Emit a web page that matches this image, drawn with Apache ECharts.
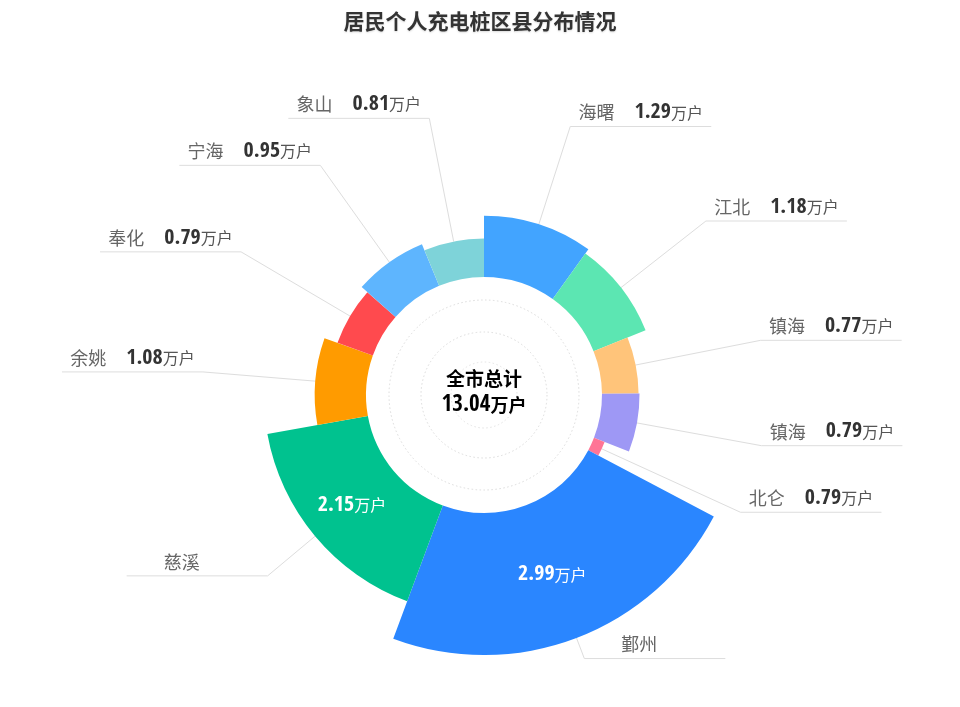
<!DOCTYPE html>
<html>
<head>
<meta charset="utf-8">
<script src="https://cdn.jsdelivr.net/npm/echarts@6/dist/echarts.min.js"></script>
<style>
  html, body { margin: 0; padding: 0; background: #fff; }
  #chart { width: 960px; height: 707px; }
</style>
</head>
<body>
<div id="chart"></div>
<script>
// ---- data ----
const titleText = '居民个人充电桩区县分布情况';
const categories = ['海曙', '江北', '镇海', '镇海', '北仑', '鄞州', '慈溪', '余姚', '奉化', '宁海', '象山'];
const values = [1.29, 1.18, 0.77, 0.79, 0.24, 2.99, 2.15, 1.08, 0.79, 0.95, 0.81];
const labelValues = ['1.29', '1.18', '0.77', '0.79', '0.79', '2.99', '2.15', '1.08', '0.79', '0.95', '0.81'];
const insideValueCategories = ['鄞州', '慈溪'];
const unitText = '万户';
const totalCaption = '全市总计';

// ---- style ----
const colors = ['#42a4ff', '#5ce6b2', '#ffc47a', '#9e98f5', '#ff7596', '#2a86ff',
                '#00c28f', '#ff9b00', '#ff4a4e', '#5eb5fe', '#7ed3d9'];
const CENTER = [484, 395];
const RADIUS = [118, 260];
const LINE_LEN = 141;
const CJK = '"Noto Sans CJK SC", "Noto Sans", sans-serif';
const NUM = '"Open Sans Condensed", "Roboto Condensed", sans-serif';

const total = values.reduce((a, b) => a + b, 0).toFixed(2);

const pieData = categories.map((name, i) => ({
  name: name,
  value: values[i],
  itemStyle: { color: colors[i] }
}));

const chart = echarts.init(document.getElementById('chart'), null, { renderer: 'canvas' });

chart.setOption({
  animation: false,
  backgroundColor: '#fff',
  title: {
    text: titleText,
    left: 'center',
    top: 6,
    textStyle: {
      fontFamily: CJK, fontSize: 21, fontWeight: 'bold', color: '#333',
      textShadowColor: 'rgba(0,0,0,0.15)', textShadowBlur: 2, textShadowOffsetY: 1
    }
  },
  graphic: [
    { type: 'circle', silent: true, shape: { cx: CENTER[0], cy: CENTER[1], r: 95 },
      style: { fill: 'none', stroke: '#dcdcdc', lineWidth: 1, lineDash: [1.5, 2.5] } },
    { type: 'circle', silent: true, shape: { cx: CENTER[0], cy: CENTER[1], r: 63 },
      style: { fill: 'none', stroke: '#dcdcdc', lineWidth: 1, lineDash: [1.5, 2.5] } },
    { type: 'circle', silent: true, shape: { cx: CENTER[0], cy: CENTER[1], r: 33 },
      style: { fill: 'none', stroke: '#e4e4e4', lineWidth: 1, lineDash: [1.5, 2.5] } },
    { type: 'text', silent: true, x: CENTER[0], y: CENTER[1] - 3, z: 10,
      style: {
        text: '{a|' + totalCaption + '}\n{b|' + total + '}{c|' + unitText + '}',
        align: 'center', verticalAlign: 'middle',
        rich: {
          a: { fontFamily: CJK, fontSize: 19, fontWeight: 'bold', color: '#222', lineHeight: 26, align: 'center' },
          b: { fontFamily: NUM, fontSize: 23, fontWeight: 'bold', color: '#222', lineHeight: 26 },
          c: { fontFamily: CJK, fontSize: 18, fontWeight: 'bold', color: '#222', lineHeight: 26 }
        }
      }
    }
  ],
  series: [
    {
      type: 'pie',
      roseType: 'radius',
      center: CENTER,
      radius: RADIUS,
      startAngle: 90,
      clockwise: true,
      avoidLabelOverlap: true,
      itemStyle: { borderWidth: 0 },
      emphasis: { disabled: true },
      data: pieData,
      label: {
        show: true,
        position: 'outside',
        formatter: function (p) {
          if (insideValueCategories.indexOf(p.name) >= 0) {
            return '{n|' + p.name + '}{b|}';
          }
          return '{n|' + p.name + '}{g|}{v|' + labelValues[p.dataIndex] + '}{u|' + unitText + '}';
        },
        rich: {
          n: { fontFamily: CJK, fontSize: 18, color: '#666', lineHeight: 24 },
          g: { width: 20, lineHeight: 24 },
          b: { width: 31, lineHeight: 24 },
          v: { fontFamily: NUM, fontSize: 22, fontWeight: 'bold', color: '#333', lineHeight: 24 },
          u: { fontFamily: CJK, fontSize: 16, color: '#555', lineHeight: 24 }
        }
      },
      labelLine: {
        show: true,
        length: 22,
        length2: 8,
        lineStyle: { color: '#dddddd', width: 1 }
      },
      labelLayout: function (params) {
        const pts = params.labelLinePoints;
        if (!pts || pts.length < 3) return {};
        const start = pts[0], bend = pts[1];
        const dir = pts[2][0] >= bend[0] ? 1 : -1;
        const end = [bend[0] + dir * LINE_LEN, bend[1]];
        return {
          x: bend[0] + dir * LINE_LEN / 2,
          y: bend[1] - 2,
          align: 'center',
          verticalAlign: 'bottom',
          labelLinePoints: [start, bend, end]
        };
      }
    },
    {
      type: 'pie',
      roseType: 'radius',
      center: CENTER,
      radius: RADIUS,
      startAngle: 90,
      clockwise: true,
      silent: true,
      avoidLabelOverlap: false,
      z: 3,
      itemStyle: { color: 'rgba(0,0,0,0)', borderWidth: 0 },
      data: categories.map((name, i) => ({ name: name, value: values[i] })),
      label: {
        show: true,
        position: 'inside',
        formatter: function (p) {
          if (insideValueCategories.indexOf(p.name) < 0) return '';
          return '{v|' + labelValues[p.dataIndex] + '}{u|' + unitText + '}';
        },
        rich: {
          v: { fontFamily: NUM, fontSize: 22, fontWeight: 'bold', color: '#fff', lineHeight: 24 },
          u: { fontFamily: CJK, fontSize: 16, color: '#fff', lineHeight: 24 }
        }
      },
      labelLine: { show: false }
    }
  ]
});
</script>
</body>
</html>
